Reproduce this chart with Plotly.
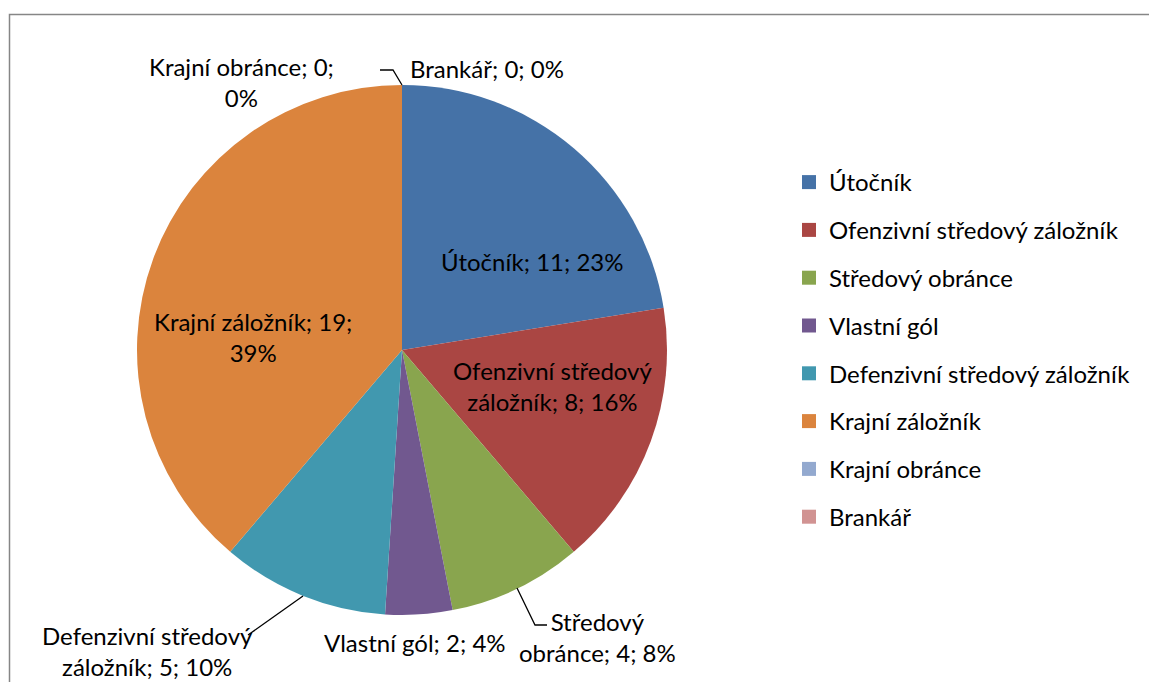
"""
Pie chart of goals by player position (Excel-style look).
"""

import plotly.graph_objects as go

W, H = 1149, 682

positions = ['Útočník', 'Ofenzivní středový záložník', 'Středový obránce', 'Vlastní gól',
             'Defenzivní středový záložník', 'Krajní záložník', 'Krajní obránce', 'Brankář']
goals = [11, 8, 4, 2, 5, 19, 0, 0]
percent_labels = [23, 16, 8, 4, 10, 39, 0, 0]
colors = ['#4572A7', '#AA4643', '#89A54E', '#71588F', '#4198AF', '#DB843D', '#93A9CF', '#D19392']

# where each data label wraps (text after which a line break goes)
breaks = [None, 'středový ', 'Středový ', None, 'středový ', '19; ', '0; ', None]
# label centres in pixels
label_pos = [(532, 261), (552, 386), (597, 637), (415, 642),
             (147, 651), (253, 337), (241, 82), (487, 68)]

FONT = 'Lato'
FS = 24


def px(x):
    return x / W


def py(y):
    return 1 - y / H


fig = go.Figure()

# pie centred at (402, 350), radius 265 px
fig.add_trace(go.Pie(
    labels=positions,
    values=goals,
    sort=False,
    direction='clockwise',
    rotation=0,
    marker=dict(colors=colors, line=dict(width=0)),
    textinfo='none',
    hoverinfo='label+value+percent',
    showlegend=False,
    domain=dict(x=[px(137), px(667)], y=[py(615), py(85)]),
))

# legend proxies so the entries can be spaced like the original
for name, c in zip(positions, colors):
    fig.add_trace(go.Scatter(
        x=[None], y=[None], mode='markers', name=name,
        marker=dict(symbol='square', size=14, color=c),
        legendgroup=name, hoverinfo='skip',
    ))

annotations = []
for i, name in enumerate(positions):
    txt = f"{name}; {goals[i]}; {percent_labels[i]}%"
    if breaks[i]:
        txt = txt.replace(breaks[i], breaks[i].strip() + '<br>', 1)
    x, y = label_pos[i]
    annotations.append(dict(
        x=px(x), y=py(y), xref='paper', yref='paper', text=txt,
        showarrow=False, xanchor='center', yanchor='middle', align='center',
        font=dict(family=FONT, size=FS, color='#000000'),
    ))

# leader lines
leaders = [
    [(380, 70), (393, 70), (402, 85)],
    [(517, 588), (535, 625), (547, 625)],
    [(303, 596), (248, 635)],
]
shapes = []
for pts in leaders:
    path = 'M ' + ' L '.join(f'{px(a):.5f},{py(b):.5f}' for a, b in pts)
    shapes.append(dict(type='path', xref='paper', yref='paper', path=path,
                       line=dict(color='#000000', width=1.3)))

# chart area border (only top and left visible)
shapes.append(dict(type='rect', xref='paper', yref='paper',
                   x0=px(9.5), x1=1.02, y0=-0.05, y1=py(14.5),
                   line=dict(color='#868686', width=1.5)))

fig.update_layout(
    width=W, height=H,
    margin=dict(l=0, r=0, t=0, b=0),
    paper_bgcolor='white', plot_bgcolor='white',
    xaxis=dict(visible=False), yaxis=dict(visible=False),
    font=dict(family=FONT, size=FS, color='#000000'),
    annotations=annotations,
    shapes=shapes,
    legend=dict(
        x=px(789), y=py(160), xanchor='left', yanchor='top',
        font=dict(family=FONT, size=FS, color='#000000'),
        itemwidth=30, tracegroupgap=13.6,
        bgcolor='rgba(0,0,0,0)',
    ),
    showlegend=True,
)

fig.write_html("out.html", config={'displayModeBar': False},
               post_script="document.body.style.margin='0';")
